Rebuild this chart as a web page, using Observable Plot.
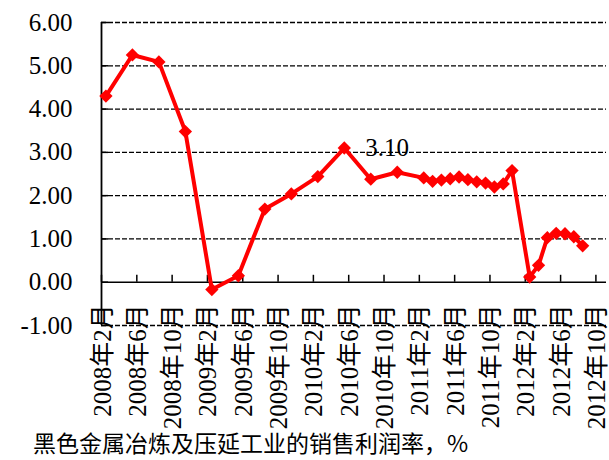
<!DOCTYPE html>
<html><head><meta charset="utf-8">
<script src="https://cdn.jsdelivr.net/npm/d3@7"></script>
<script src="https://cdn.jsdelivr.net/npm/@observablehq/plot@0.6"></script>
<style>
body{margin:0;background:#fff;}
#wrap{position:relative;width:609px;height:460px;overflow:hidden;}
#wrap svg{overflow:visible;}
#cap{position:absolute;left:33px;top:429px;font-family:"Noto Sans CJK SC";font-size:23px;line-height:26px;color:#000;white-space:nowrap;}
</style></head><body>
<div id="wrap"></div>
<script>
// data
const months = ["2008-02","2008-05","2008-08","2008-11","2009-02","2009-05","2009-08","2009-11",
  "2010-02","2010-05","2010-08","2010-11",
  "2011-02","2011-03","2011-04","2011-05","2011-06","2011-07","2011-08","2011-09","2011-10","2011-11","2011-12",
  "2012-02","2012-03","2012-04","2012-05","2012-06","2012-07","2012-08"];
const values = [4.30,5.25,5.09,3.48,-0.17,0.15,1.69,2.04,
  2.44,3.10,2.38,2.54,
  2.41,2.33,2.36,2.39,2.43,2.37,2.32,2.29,2.20,2.27,2.58,
  0.12,0.39,1.03,1.13,1.12,1.05,0.84];
const xTickMonths = ["2008-02","2008-06","2008-10","2009-02","2009-06","2009-10","2010-02","2010-06",
  "2010-10","2011-02","2011-06","2011-10","2012-02","2012-06","2012-10"];
const xTickLabels = ["2008年2月","2008年6月","2008年10月","2009年2月","2009年6月","2009年10月","2010年2月","2010年6月",
  "2010年10月","2011年2月","2011年6月","2011年10月","2012年2月","2012年6月","2012年10月"];
const yTicks = [-1,0,1,2,3,4,5,6];
const yTickLabels = ["-1.00","0.00","1.00","2.00","3.00","4.00","5.00","6.00"];
const gridValues = [-1,1,2,3,4,5,6];
const annotatedMonth = "2010-05";
const captionText = "黑色金属冶炼及压延工业的销售利润率，%";

const idx = s => { const [y, m] = s.split("-").map(Number); return (y - 2008) * 12 + (m - 2); };
const data = months.map((m, i) => ({m, x: idx(m) + 0.5, v: values[i]}));
const xt = xTickMonths.map((m, i) => ({x: idx(m), label: xTickLabels[i]}));
const yt = yTicks.map((v, i) => ({v, label: yTickLabels[i]}));

const fontF = "Liberation Serif, DejaVu Serif, Noto Sans CJK SC";
const chart = Plot.plot({
  width: 609, height: 425,
  marginLeft: 101, marginRight: 3, marginTop: 22, marginBottom: 100,
  x: {domain: [0, 57.2], axis: null},
  y: {domain: [-1, 6], axis: null},
  style: {background: "transparent", overflow: "visible", color: "#000", fontFamily: fontF},
  marks: [
    Plot.ruleY(gridValues, {stroke: "#000", strokeWidth: 1.3, strokeDasharray: "5,2"}),
    Plot.ruleY([0], {stroke: "#000", strokeWidth: 1.5}),
    Plot.ruleX([0], {y1: -1, y2: 6, stroke: "#000", strokeWidth: 1.8}),
    Plot.ruleY(yt, {y: "v", x1: 0, x2: 0.8, stroke: "#000", strokeWidth: 1.5}),
    Plot.ruleX(xt, {x: "x", y1: 0, y2: 0.16, stroke: "#000", strokeWidth: 1.5}),
    Plot.text(yt, {x: 0, y: "v", text: "label", textAnchor: "end", dx: -29, fontSize: 25, fill: "#000", fontFamily: fontF}),
    Plot.text(xt, {x: "x", y: 0, text: "label", rotate: -90, textAnchor: "end", dy: 22, dx: 1, fontSize: 25, fill: "#000", fontFamily: fontF}),
    Plot.line(data, {x: "x", y: "v", stroke: "#ff0000", strokeWidth: 4}),
    Plot.dot(data, {x: "x", y: "v", symbol: "diamond2", r: 6, fill: "#ff0000"}),
    Plot.text(data.filter(d => d.m === annotatedMonth), {x: "x", y: "v", text: d => d.v.toFixed(2), dx: 21, textAnchor: "start", fontSize: 25, fill: "#000", fontFamily: fontF})
  ]
});
const wrap = document.getElementById("wrap");
wrap.appendChild(chart);
const cap = document.createElement("div");
cap.id = "cap";
cap.textContent = captionText;
wrap.appendChild(cap);
</script>
</body></html>
